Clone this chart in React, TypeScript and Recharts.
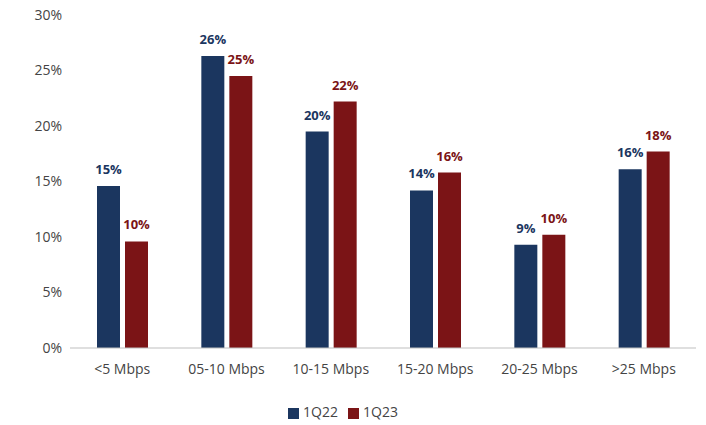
import { BarChart, Bar, XAxis, YAxis, Legend, LabelList } from 'recharts';

const categories = ['<5 Mbps', '05-10 Mbps', '10-15 Mbps', '15-20 Mbps', '20-25 Mbps', '>25 Mbps'];
const q22 = [14.6, 26.3, 19.5, 14.2, 9.3, 16.1];
const q23 = [9.6, 24.5, 22.2, 15.8, 10.2, 17.7];
const yTicks = [0, 5, 10, 15, 20, 25, 30];

const NAVY = '#1b365f';
const RED = '#7b1416';
const FONT = '"Open Sans", sans-serif';

const data = categories.map((name, i) => ({ name, q22: q22[i], q23: q23[i] }));
const pct = (v: any) => `${Math.round(Number(v))}%`;

export default function App() {
  return (
    <div style={{ position: 'absolute', left: 0, top: 0, fontFamily: FONT }}>
      <BarChart width={706} height={425} data={data} margin={{ top: 15, right: 10, left: 0, bottom: 5 }} barGap={5} barSize={23}>
        <XAxis dataKey="name" height={35} tickLine={false} axisLine={{ stroke: '#bfbfbf' }} tick={{ fill: '#444', fontSize: 14, fontFamily: FONT }} tickMargin={10} />
        <YAxis ticks={yTicks} domain={[0, 30]} width={70} axisLine={false} tickLine={false} tickFormatter={(v) => `${v}%`} tick={{ fill: '#444', fontSize: 14, fontFamily: FONT }} />
        <Legend verticalAlign="bottom" height={37} iconType="square" iconSize={11} wrapperStyle={{ fontSize: 14, fontFamily: FONT, color: '#444', bottom: -14 }} formatter={(v) => <span style={{ color: '#444' }}>{v}</span>} />
        <Bar dataKey="q22" name="1Q22" fill={NAVY} isAnimationActive={false}>
          <LabelList dataKey="q22" position="top" formatter={pct} offset={12} style={{ fill: NAVY, fontWeight: 700, fontSize: 13, fontFamily: FONT }} />
        </Bar>
        <Bar dataKey="q23" name="1Q23" fill={RED} isAnimationActive={false}>
          <LabelList dataKey="q23" position="top" formatter={pct} offset={12} style={{ fill: RED, fontWeight: 700, fontSize: 13, fontFamily: FONT }} />
        </Bar>
      </BarChart>
    </div>
  );
}
